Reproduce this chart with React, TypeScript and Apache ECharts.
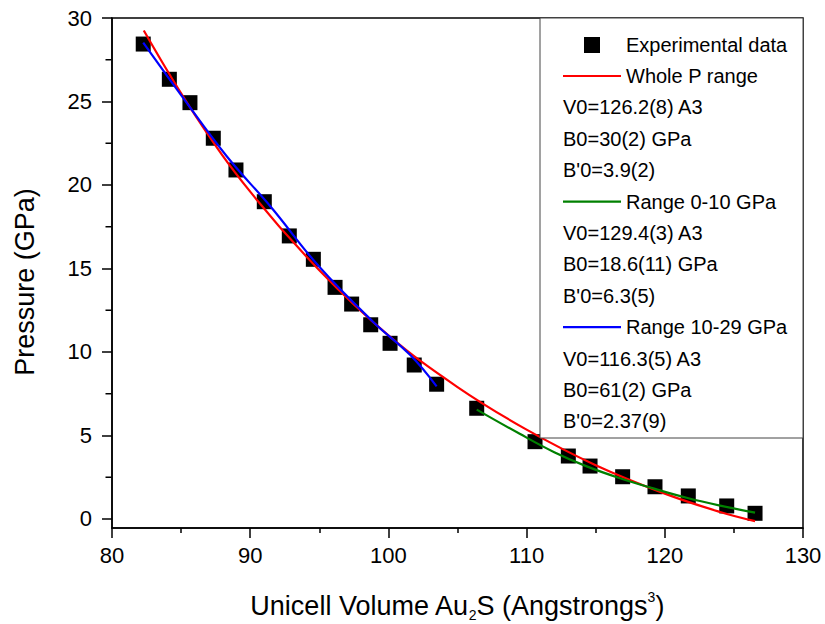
import React, { useEffect, useRef } from "react";
import * as echarts from "echarts";

// Experimental data (volume in Å^3, pressure in GPa)
const expV = [82.26, 84.15, 85.64, 87.33, 88.97, 91.02, 92.83, 94.57, 96.14, 97.34, 98.72, 100.12, 101.87, 103.49, 106.39, 110.61, 113.02, 114.59, 116.95, 119.29, 121.7, 124.48, 126.53];
const expP = [28.44, 26.33, 24.93, 22.8, 20.9, 19.0, 16.95, 15.55, 13.87, 12.87, 11.63, 10.52, 9.22, 8.07, 6.63, 4.63, 3.77, 3.17, 2.53, 1.93, 1.38, 0.78, 0.34];

// Fitted curves
const redV = [82.3, 86, 90, 95, 100, 105, 110, 115, 120, 124, 126.53];
const redP = [29.25, 24.2, 19.6, 14.9, 11.0, 7.9, 5.35, 3.22, 1.52, 0.42, -0.13];
const greenV = [106.39, 109.5, 112, 114.35, 116.76, 119.17, 121.58, 124, 126.53];
const greenP = [6.55, 5.1, 4.0, 3.15, 2.44, 1.83, 1.27, 0.8, 0.38];
const blueV = [82.26, 85, 88.3, 91.5, 95, 98.9, 101.6, 103.49];
const blueP = [28.52, 25.38, 21.72, 18.68, 15.1, 11.8, 9.8, 7.94];

const yLabelValues = [0, 5, 10, 15, 20, 25, 30];
const yMinorValues = [2.5, 7.5, 12.5, 17.5, 22.5, 27.5];
const X_MIN = 80;

const legendMain = ["Experimental data", "Whole P range", "Range 0-10 GPa", "Range 10-29 GPa"];
const legendParams = [
  ["V0=126.2(8) A3", "B0=30(2) GPa", "B'0=3.9(2)"],
  ["V0=129.4(3) A3", "B0=18.6(11) GPa", "B'0=6.3(5)"],
  ["V0=116.3(5) A3", "B0=61(2) GPa", "B'0=2.37(9)"],
];
const lineColors = ["#ff0000", "#008000", "#0000ff"];

const FONT = '"Liberation Sans", Arial, sans-serif';

const zip = (a: number[], b: number[]) => a.map((v, i) => [v, b[i]]);

export default function App() {
  const ref = useRef<HTMLDivElement>(null);
  useEffect(() => {
    if (!ref.current) return;
    const chart = echarts.init(ref.current, null, { renderer: "svg" });

    const graphics: any[] = [];
    graphics.push({
      type: "rect",
      z: 100,
      shape: { x: 540, y: 18, width: 263, height: 420 },
      style: { fill: "#fff", stroke: "#444", lineWidth: 1 },
    });
    const textStyle = (text: string, x: number, y: number) => ({
      type: "text",
      z: 101,
      style: { text, x, y, fontSize: 20, fontFamily: FONT, fill: "#000", align: "left", verticalAlign: "middle" },
    });
    // Experimental data entry
    graphics.push({
      type: "rect",
      z: 101,
      shape: { x: 584, y: 37, width: 16, height: 16 },
      style: { fill: "#000" },
    });
    graphics.push(textStyle(legendMain[0], 626, 45));
    const rowH = 31.4;
    let y = 76;
    for (let k = 0; k < 3; k++) {
      graphics.push({
        type: "line",
        z: 101,
        shape: { x1: 563, y1: y, x2: 621, y2: y },
        style: { stroke: lineColors[k], lineWidth: 2.2 },
      });
      graphics.push(textStyle(legendMain[k + 1], 626, y));
      for (let j = 0; j < 3; j++) {
        y += rowH;
        graphics.push(textStyle(legendParams[k][j], 563, y));
      }
      y += rowH;
    }
    // Axis titles
    graphics.push({
      type: "text",
      z: 101,
      x: 25,
      y: 282,
      rotation: Math.PI / 2,
      style: { text: "Pressure (GPa)", fontSize: 27, fontFamily: FONT, fill: "#000", align: "center", verticalAlign: "middle" },
    });
    graphics.push({
      type: "text",
      z: 101,
      style: {
        text: "{a|Unicell Volume Au}{b|2}{a|S (Angstrongs}{c|3}{a|)}",
        x: 457,
        y: 606,
        align: "center",
        verticalAlign: "middle",
        fill: "#000",
        fontFamily: FONT,
        rich: {
          a: { fontSize: 27, fontFamily: FONT, lineHeight: 32, fill: "#000" },
          b: { fontSize: 14, fontFamily: FONT, verticalAlign: "bottom", lineHeight: 14, fill: "#000" },
          c: { fontSize: 14, fontFamily: FONT, verticalAlign: "top", lineHeight: 14, fill: "#000" },
        },
      },
    });

    const lineSeries = (data: number[][], color: string) => ({
      type: "line",
      data,
      smooth: 0.4,
      showSymbol: false,
      symbol: "none",
      clip: false,
      lineStyle: { color, width: 2.2 },
      z: 3,
    });

    chart.setOption({
      animation: false,
      backgroundColor: "#fff",
      grid: { left: 112, right: 22, top: 18, bottom: 96, show: true, borderColor: "#000", borderWidth: 1.5, backgroundColor: "transparent" },
      xAxis: {
        type: "value",
        min: X_MIN,
        max: 130,
        interval: 10,
        axisLine: { show: true, onZero: false, lineStyle: { color: "#000", width: 1.5 } },
        axisTick: { show: true, inside: false, length: 10, lineStyle: { color: "#000", width: 1.5 } },
        minorTick: { show: true, splitNumber: 2, length: 5, lineStyle: { color: "#000", width: 1.5 } },
        axisLabel: { fontSize: 22, fontFamily: FONT, color: "#000", margin: 16 },
        splitLine: { show: false },
      },
      yAxis: {
        type: "value",
        min: -0.54,
        max: 30,
        axisLine: { show: true, onZero: false, lineStyle: { color: "#000", width: 1.5 } },
        axisTick: { show: true, inside: false, length: 10, customValues: yLabelValues, lineStyle: { color: "#000", width: 1.5 } },
        axisLabel: { fontSize: 22, fontFamily: FONT, color: "#000", margin: 20, customValues: yLabelValues },
        splitLine: { show: false },
      },
      graphic: graphics,
      series: [
        {
          type: "scatter",
          data: zip(expV, expP),
          symbol: "rect",
          symbolSize: 15,
          itemStyle: { color: "#000", opacity: 1 },
          z: 2,
        },
        lineSeries(zip(redV, redP), lineColors[0]),
        lineSeries(zip(greenV, greenP), lineColors[1]),
        lineSeries(zip(blueV, blueP), lineColors[2]),
        {
          // minor ticks of the pressure axis
          type: "scatter",
          data: yMinorValues.map((v) => [X_MIN, v]),
          symbol: "rect",
          symbolSize: [6, 1.5],
          symbolOffset: [-3.5, 0],
          itemStyle: { color: "#000", opacity: 1 },
          clip: false,
          silent: true,
          z: 5,
        },
      ],
    });
    return () => chart.dispose();
  }, []);
  return <div ref={ref} style={{ position: "fixed", left: 0, top: 0, width: 825, height: 624 }} />;
}
